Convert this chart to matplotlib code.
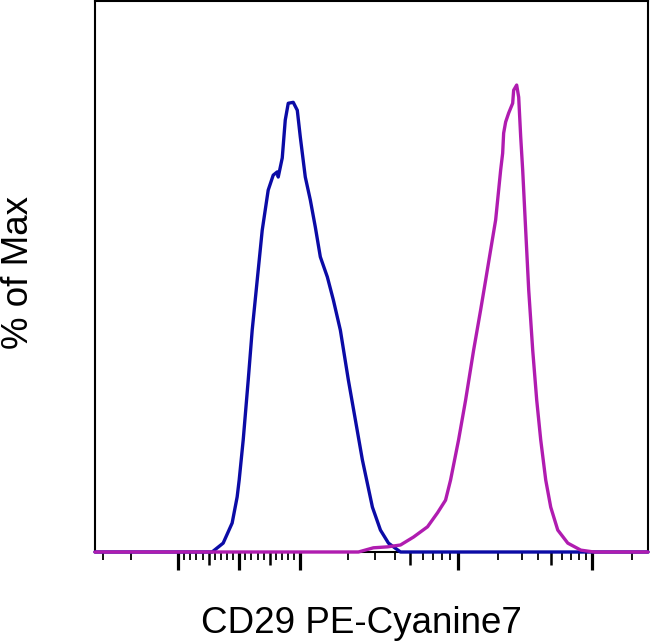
import numpy as np
import matplotlib
matplotlib.use("Agg")
import matplotlib.pyplot as plt
from matplotlib.ticker import FixedLocator, NullFormatter

plt.rcParams['font.family'] = ['Liberation Sans', 'DejaVu Sans']

# ---- data (fluorescence intensity, % of max) ----
blue_x = [-3400, -443, -262, -115, -33, 0, 66, 148, 213, 295, 377, 475, 557, 623, 639,
          705, 754, 803, 885, 951, 1000, 1076, 1158, 1246, 1341, 1486, 1622, 1798,
          2022, 2240, 2483, 2875, 3233, 3636, 4335, 262144]
blue_y = [0, 0, 1.9, 6.2, 11.8, 15.4, 24.0, 36.8, 47.5, 58.2, 68.9, 77.5, 80.7, 81.4, 80.3,
          84.4, 92.5, 96.1, 96.3, 94.6, 88.9, 80.3, 75.4, 69.6, 63.2, 58.9, 54.0, 47.5,
          36.8, 28.3, 19.7, 9.6, 4.7, 1.9, 0, 0]

mag_x = [-3400, 2341, 2917, 3581, 4335, 5246, 6441, 7457, 8386, 9024, 10172, 11473,
         13164, 14845, 16180, 17637, 19213, 20940, 21670, 22040, 22815, 24020, 25730,
         26170, 27560, 28530, 29530, 30550, 32170, 33880, 36290, 38870, 41630, 45370,
         49430, 55760, 66220, 82780, 103500, 262144]
mag_y = [0, 0, 0.9, 1.1, 1.5, 3.2, 5.4, 8.4, 11.1, 15.4, 24.0, 32.5,
         43.2, 51.8, 58.2, 64.7, 71.1, 81.8, 85.4, 89.7, 92.1, 94.0, 96.1,
         98.9, 100.0, 97.4, 88.9, 81.8, 68.9, 56.1, 43.2, 32.5, 24.0, 15.4,
         9.6, 4.7, 1.9, 0.4, 0, 0]

major_ticks = [-1000, 0, 1000, 10000, 100000]
medium_ticks = [-500, 500, 5000, 50000]
minor_ticks = ([-3000, -2000] + [-v for v in range(100, 1000, 100) if v != 500]
               + [v for v in range(100, 1000, 100) if v != 500]
               + [v for v in range(2000, 10000, 1000) if v != 5000]
               + [v for v in range(20000, 100000, 10000) if v != 50000]
               + [200000])

x_label = "CD29 PE-Cyanine7"
y_label = "% of Max"


# ---- biexponential-like display scale ----
def fwd(x):
    x = np.asarray(x, dtype=float)
    with np.errstate(all='ignore'):
        lin = 239 + 0.061 * x
        neg = 178 - 156 * np.log10(np.abs(x) / 1000)
        ax_ = np.log10(np.abs(x) + 1e-12)
        pos1 = 300 + 157 * (ax_ - 3)
        pos2 = 457 + 134 * (ax_ - 4)
    out = np.where(x < -1000, neg,
          np.where(x <= 1000, lin,
          np.where(x <= 10000, pos1, pos2)))
    return out


def inv(p):
    p = np.asarray(p, dtype=float)
    with np.errstate(all='ignore'):
        neg = -1000 * 10 ** ((178 - p) / 156)
        lin = (p - 239) / 0.061
        pos1 = 10 ** (3 + (p - 300) / 157)
        pos2 = 10 ** (4 + (p - 457) / 134)
    return np.where(p < 178, neg,
           np.where(p <= 300, lin,
           np.where(p <= 457, pos1, pos2)))


fig = plt.figure(figsize=(6.5, 6.43), dpi=100)
ax = fig.add_axes([95 / 650, 1 - 552 / 643, (648 - 95) / 650, (552 - 1) / 643])
ax.set_xscale('function', functions=(fwd, inv))
ax.set_xlim(-3400, 262144)
ax.set_ylim(0, 118)

ax.plot(blue_x, blue_y, color='#0b0ba6', lw=2.4, clip_on=False, zorder=3,
        solid_joinstyle='round', solid_capstyle='round')
ax.plot(mag_x, mag_y, color='#b01cb0', lw=2.4, clip_on=False, zorder=4,
        solid_joinstyle='round', solid_capstyle='round')

for s in ['left', 'top', 'right', 'bottom']:
    ax.spines[s].set_linewidth(1.5)
    ax.spines[s].set_color('black')

ax.yaxis.set_visible(False)
ax.xaxis.set_major_locator(FixedLocator(major_ticks + medium_ticks))
ax.xaxis.set_minor_locator(FixedLocator(minor_ticks))
ax.xaxis.set_major_formatter(NullFormatter())
ax.xaxis.set_minor_formatter(NullFormatter())
ax.tick_params(axis='x', which='major', direction='out', length=13, width=2.3, color='black')
ax.tick_params(axis='x', which='minor', direction='out', length=5.5, width=1.3, color='black')

ticks = ax.xaxis.get_major_ticks()
locs = major_ticks + medium_ticks
for t, v in zip(ticks, locs):
    if v in medium_ticks:
        t.tick1line.set_markersize(9)
        t.tick1line.set_markeredgewidth(1.8)

fig.text(361 / 650, 1 - 633 / 643, x_label, ha='center', va='baseline', fontsize=26.5)
fig.text(19 / 650, 1 - 273 / 643, y_label, ha='center', va='center', rotation=90,
         fontsize=26.5)

fig.savefig('out.png', dpi=100, facecolor='white')
